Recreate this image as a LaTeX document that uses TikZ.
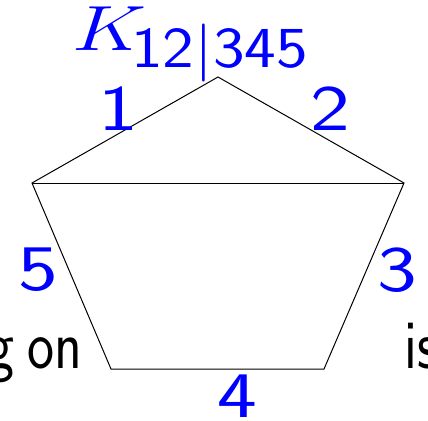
\RequirePackage{fix-cm}
\documentclass[tikz,border=0pt]{standalone}
\usepackage{xcolor}
\usepackage{graphicx}
\usepackage{tikz}
\newcommand{\bluenum}[1]{\scalebox{1.3}[1]{#1}}
\newcommand{\narrowword}[1]{\scalebox{0.82}[1]{#1}}

\begin{document}
\begin{tikzpicture}[
    x=1pt, y=-1pt,
    edge/.style={draw=black, line width=1pt},
    num/.style={text=blue, inner sep=0pt, font=\fontsize{65}{78}\selectfont\sffamily},
    body/.style={text=black, inner sep=0pt, font=\fontsize{70}{84}\selectfont\sffamily}
]
\useasboundingbox (0,0) rectangle (428,420);
\coordinate (top) at (218,77);
\coordinate (left) at (32,183);
\coordinate (right) at (404,183);
\coordinate (botleft) at (111,369);
\coordinate (botright) at (324,369);

\draw[edge] (top) -- (right) -- (botright) -- (botleft) -- (left) -- cycle;
\draw[edge] (left) -- (right);

\node[num, anchor=base west] (kname) at (72,51)
  {\scalebox{1.32}[1.03]{\fontsize{62}{74}\selectfont$K$}\kern-15pt\raisebox{-17pt}{\scalebox{1.16}[1]{\fontsize{58}{70}\selectfont 12|345}}};
\node[num] (e1) at (118,109) {\bluenum{1}};
\node[num] (e2) at (330,109) {\bluenum{2}};
\node[num] (e3) at (397,270) {\bluenum{3}};
\node[num] (e4) at (237,396) {\bluenum{4}};
\node[num] (e5) at (38,270) {\bluenum{5}};

\node[body, anchor=base east] (wleft) at (83,368) {\narrowword{g\kern17pt on}};
\node[body, anchor=base west] (wright) at (404,368) {\narrowword{is}};
\end{tikzpicture}
\end{document}
